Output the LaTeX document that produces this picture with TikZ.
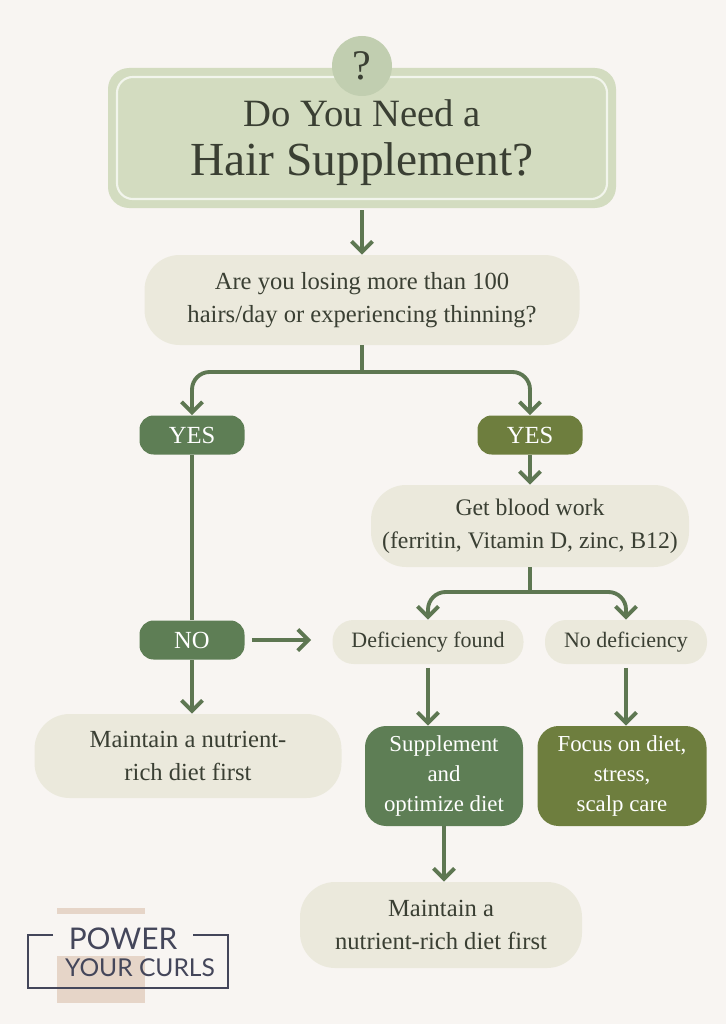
\documentclass[tikz,border=0pt]{standalone}
\usepackage{fontspec}
\setmainfont{Liberation Serif}
\newfontfamily\logofont{Lato}
\usetikzlibrary{arrows.meta,positioning}
\definecolor{paper}{HTML}{F8F5F2}
\definecolor{sage}{HTML}{D3DCC0}
\definecolor{cream}{HTML}{EBE9DC}
\definecolor{moss}{HTML}{5E7E55}
\definecolor{olive}{HTML}{6E7E3E}
\definecolor{stem}{HTML}{5E7752}
\definecolor{ink}{HTML}{3A3F33}
\definecolor{logoink}{HTML}{44465A}
\definecolor{tan}{HTML}{E6D5C8}
\tikzset{
  pill/.style={rounded corners=20pt,fill=cream,text=ink,align=center,inner sep=0pt},
  tag/.style={rounded corners=8pt,text=white,align=center,inner sep=0pt,font=\fontsize{14}{14}\selectfont},
  flow/.style={draw=stem,line width=2.2pt,-{Straight Barb[length=6pt,width=12pt]}},
  plain/.style={draw=stem,line width=2.2pt},
}
\begin{document}
\begin{tikzpicture}[x=0.02cm,y=-0.02cm]
\fill[paper] (0,0) rectangle (726,1024);
\useasboundingbox (0,0) rectangle (726,1024);

% title
\node[fill=sage,rounded corners=12pt,minimum width=508*0.02cm,minimum height=140*0.02cm,inner sep=0pt] (title) at (362,138) {};
\draw[white!70!sage,line width=1.2pt,rounded corners=9pt] (117,77) rectangle (607,199);
\node[circle,fill=sage!85!moss,minimum size=60*0.02cm,inner sep=0pt,font=\fontsize{24}{24}\selectfont,text=ink] (q) at (362,66) {?};
\node[text=ink,align=center,font=\fontsize{22}{30}\selectfont] (head) at (362,143) {Do You Need a\\[-2pt]{\fontsize{27}{30}\selectfont Hair Supplement?}};

% questions
\node[pill,minimum width=435*0.02cm,minimum height=90*0.02cm,font=\fontsize{14}{19}\selectfont] (lose) at (362,300) {Are you losing more than 100\\hairs/day or experiencing thinning?};
\node[tag,fill=moss,minimum width=105*0.02cm,minimum height=39*0.02cm] (yesl) at (192,435) {YES};
\node[tag,fill=olive,minimum width=105*0.02cm,minimum height=39*0.02cm] (yesr) at (530,435) {YES};
\node[tag,fill=moss,minimum width=105*0.02cm,minimum height=39*0.02cm] (no) at (192,640) {NO};
\node[pill,minimum width=318*0.02cm,minimum height=82*0.02cm,font=\fontsize{13.5}{19}\selectfont] (blood) at (530,526) {Get blood work\\(ferritin, Vitamin D, zinc, B12)};
\node[pill,rounded corners=12pt,minimum width=191*0.02cm,minimum height=44*0.02cm,font=\fontsize{12.5}{16}\selectfont] (found) at (428,642) {Deficiency found};
\node[pill,rounded corners=12pt,minimum width=162*0.02cm,minimum height=44*0.02cm,font=\fontsize{12.5}{16}\selectfont] (nodef) at (626,642) {No deficiency};

% outcomes
\node[pill,minimum width=307*0.02cm,minimum height=84*0.02cm,font=\fontsize{14}{19}\selectfont] (keepl) at (188,756) {Maintain a nutrient-\\rich diet first};
\node[tag,fill=moss,rounded corners=12pt,minimum width=158*0.02cm,minimum height=100*0.02cm,font=\fontsize{13}{17}\selectfont] (supp) at (444,776) {Supplement\\and\\optimize diet};
\node[tag,fill=olive,rounded corners=12pt,minimum width=169*0.02cm,minimum height=100*0.02cm,font=\fontsize{13}{17}\selectfont] (focus) at (622,776) {Focus on diet,\\stress,\\scalp care};
\node[pill,minimum width=282*0.02cm,minimum height=86*0.02cm,font=\fontsize{14}{19}\selectfont] (keep) at (441,925) {Maintain a\\nutrient-rich diet first};

% connectors
\coordinate (fork1) at (362,372);
\coordinate (fork2) at (530,592);
\draw[flow] (title.south) ++(0,2) -- (lose.north);
\draw[plain] (lose.south) -- (fork1);
\draw[flow,rounded corners=10pt] (fork1) -| (yesl.north);
\draw[flow,rounded corners=10pt] (fork1) -| (yesr.north);
\draw[plain] (yesl.south) -- (no.north);
\draw[flow] (yesr.south) -- (blood.north);
\draw[plain] (blood.south) -- (fork2);
\draw[flow,rounded corners=10pt] (fork2) -| (found.north);
\draw[flow,rounded corners=10pt] (fork2) -| (nodef.north);
\draw[flow] ([xshift=4pt]no.east) -- ([xshift=-12pt]no.east -| found.west);
\draw[flow] (no.south) -- (no.south |- keepl.north);
\draw[flow] ([yshift=-2pt]found.south) -- (found.south |- supp.north);
\draw[flow] ([yshift=-2pt]nodef.south) -- (nodef.south |- focus.north);
\draw[flow] (supp.south) -- (supp.south |- keep.north);

% logo
\fill[tan] (57,908) rectangle (145,914);
\fill[tan] (57,956) rectangle (145,1003);
\draw[logoink,line width=1.3pt] (53,935) -- (28,935) -- (28,988) -- (228,988) -- (228,935) -- (193,935);
\node[text=logoink,font=\logofont\fontsize{17}{17}\selectfont] (power) at (123,939) {POWER};
\node[text=logoink,font=\logofont\fontsize{14}{14}\selectfont] (curls) at (140,968) {YOUR CURLS};
\end{tikzpicture}
\end{document}
